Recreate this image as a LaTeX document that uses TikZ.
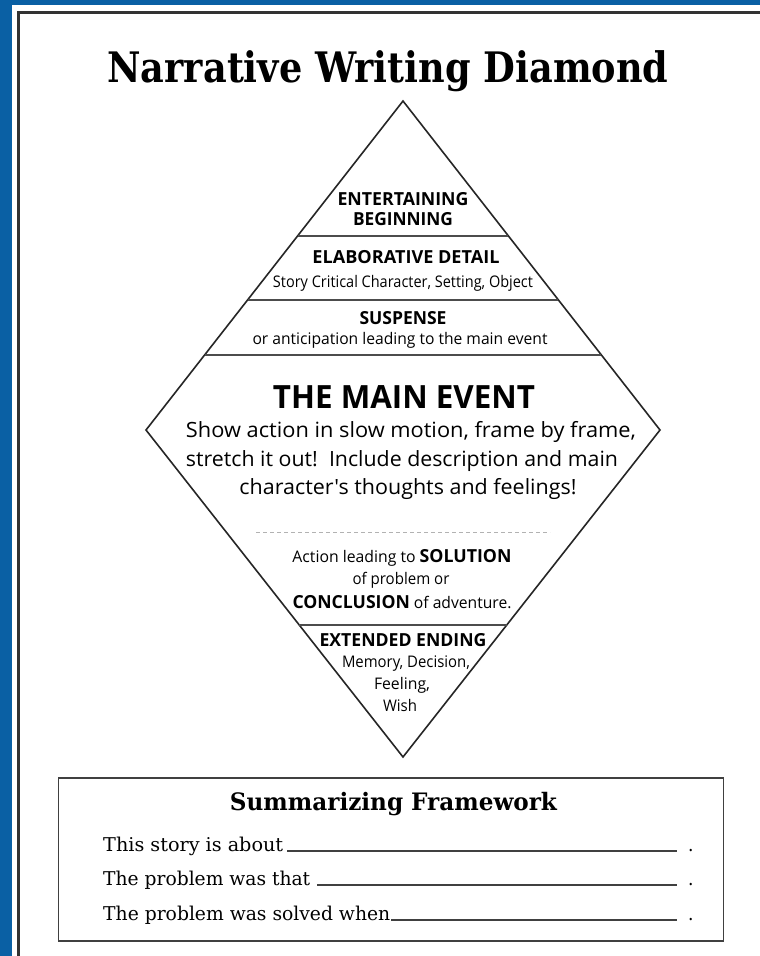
\documentclass[tikz,border=0pt]{standalone}
\usepackage{fontspec}
\usepackage{graphicx}
\usetikzlibrary{calc}
\newfontfamily\dsans{Open Sans}
\newfontfamily\dserif{DejaVu Serif Condensed}
\definecolor{bandblue}{RGB}{10,96,164}
\newcommand\fitw[2]{\resizebox{#1pt}{\height}{#2}}
\begin{document}
\begin{tikzpicture}[x=1pt,y=-1pt,
  edge/.style={line width=1.6pt, black!85, line cap=round, line join=miter},
  band/.style={line width=1.8pt, black!70},
  dtxt/.style={anchor=base, inner sep=0pt, font=\dsans\fontsize{18}{20}\selectfont\bfseries},
  dsub/.style={anchor=base, inner sep=0pt, font=\dsans\fontsize{16}{18}\selectfont},
  dmain/.style={anchor=base, inner sep=0pt, font=\dsans\fontsize{21}{24}\selectfont},
  stxt/.style={anchor=base west, inner sep=0pt, font=\dserif\fontsize{19}{22}\selectfont},
  blank/.style={line width=1.1pt, black!75}]
\useasboundingbox (0,0) rectangle (760,956);
\fill[white] (0,0) rectangle (760,956);
% frame
\fill[bandblue] (0,0) rectangle (12,956);
\fill[bandblue] (0,0) rectangle (760,5);
\coordinate (fb) at (18,956);
\coordinate (fc) at (18,12);
\coordinate (fr) at (760,12);
\draw[line width=3pt, black!80] (fb) -- (fc) -- (fr);
% title
\node[anchor=base, inner sep=0pt, font=\dserif\fontsize{42}{46}\selectfont\bfseries] (title) at (388,82) {\fitw{561}{Narrative Writing Diamond}};
% diamond
\coordinate (T) at (403,101);
\coordinate (L) at (146,430);
\coordinate (R) at (660,430);
\coordinate (B) at (403,757);
\draw[edge] (T) -- (R) -- (B) -- (L) -- cycle;
\coordinate (a1) at ($(T)!0.4103!(L)$);
\coordinate (a2) at ($(T)!0.4103!(R)$);
\coordinate (b1) at ($(T)!0.6049!(L)$);
\coordinate (b2) at ($(T)!0.6049!(R)$);
\coordinate (c1) at ($(T)!0.7720!(L)$);
\coordinate (c2) at ($(T)!0.7720!(R)$);
\coordinate (d1) at ($(L)!0.5963!(B)$);
\coordinate (d2) at ($(R)!0.5963!(B)$);
\draw[band] (a1) -- (a2);
\draw[band] (b1) -- (b2);
\draw[band] (c1) -- (c2);
\draw[band] (d1) -- (d2);
\coordinate (e1) at (256,532);
\coordinate (e2) at (550,532);
\draw[black!30, line width=0.9pt, dash pattern=on 4pt off 3pt] (e1) -- (e2);
% diamond texts
\node[dtxt] (t1) at (403,205) {\fitw{131}{ENTERTAINING}};
\node[dtxt] (t2) at (403,225) {\fitw{100}{BEGINNING}};
\node[dtxt] (t3) at (406,263) {\fitw{187}{ELABORATIVE DETAIL}};
\node[dsub] (t4) at (403,287) {\fitw{260}{Story Critical Character, Setting, Object}};
\node[dtxt] (t5) at (403,324) {\fitw{87}{SUSPENSE}};
\node[dsub] (t6) at (400,344) {\fitw{295}{or anticipation leading to the main event}};
\node[dtxt, font=\dsans\fontsize{32}{34}\selectfont\bfseries] (t7) at (404,408) {\fitw{262}{THE MAIN EVENT}};
\node[dmain] (t8) at (411,437) {\fitw{450}{Show action in slow motion, frame by frame,}};
\node[dmain] (t9) at (402,466) {\fitw{432}{stretch it out!\ \ Include description and main}};
\node[dmain] (t10) at (408,494) {\fitw{337}{character's thoughts and feelings!}};
\node[dsub] (t11) at (402,562) {\fitw{219}{Action leading to \textbf{\fontsize{18}{20}\selectfont SOLUTION}}};
\node[dsub] (t12) at (401,584) {\fitw{97}{of problem or}};
\node[dsub] (t13) at (402,608) {\fitw{219}{\textbf{\fontsize{18}{20}\selectfont CONCLUSION} of adventure.}};
\node[dtxt] (t14) at (403,646) {\fitw{167}{EXTENDED ENDING}};
\node[dsub] (t15) at (406,667) {\fitw{128}{Memory, Decision,}};
\node[dsub] (t16) at (402,689) {\fitw{56}{Feeling,}};
\node[dsub] (t17) at (400,711) {\fitw{34}{Wish}};
% summarizing box
\node[draw=black!75, line width=1.8pt, minimum width=665pt, minimum height=163pt, inner sep=0pt] (box) at (391,859.5) {};
\node[anchor=base, inner sep=0pt, font=\dserif\fontsize{24}{28}\selectfont\bfseries] (st) at (393.5,810) {\fitw{327}{Summarizing Framework}};
\node[stxt] (r1) at (103,851) {\fitw{180}{This story is about}};
\node[stxt] (r2) at (103,885) {\fitw{207}{The problem was that}};
\node[stxt] (r3) at (103,920) {\fitw{287}{The problem was solved when}};
\coordinate (u1a) at (287,851); \coordinate (u1b) at (677,851);
\coordinate (u2a) at (317,885); \coordinate (u2b) at (677,885);
\coordinate (u3a) at (391,920); \coordinate (u3b) at (677,920);
\draw[blank] (u1a) -- (u1b);
\draw[blank] (u2a) -- (u2b);
\draw[blank] (u3a) -- (u3b);
\node[stxt] (p1) at (688,851) {.};
\node[stxt] (p2) at (688,885) {.};
\node[stxt] (p3) at (688,920) {.};
\end{tikzpicture}
\end{document}
